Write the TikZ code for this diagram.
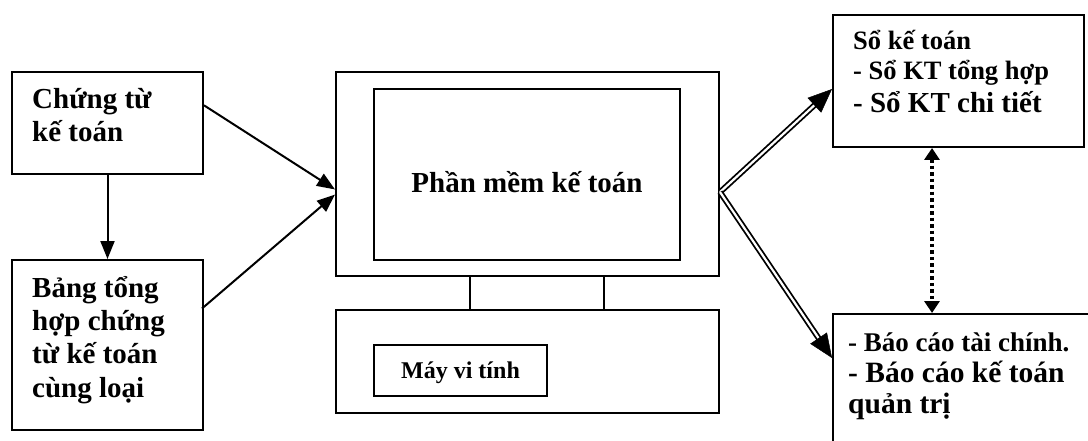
\documentclass[tikz,border=0pt]{standalone}
\usepackage{fontspec}
\setmainfont{Liberation Serif}
\usetikzlibrary{arrows.meta,calc}
\begin{document}
\begin{tikzpicture}[x=1pt,y=-1pt,
  box/.style={draw, line width=2pt, inner sep=0pt, anchor=north west},
  txt/.style={inner sep=0pt, align=left, anchor=base west},
  arr/.style={line width=2pt, -{Triangle[length=18pt,width=14pt]}},
  dbl/.style={draw, line width=1.8pt, double, double distance=2.2pt},
  bighead/.style={line width=0.5pt, -{Triangle[length=24pt,width=20pt]}},
  dotarr/.style={line width=3.2pt, dash pattern=on 3.5pt off 3pt,
     {Triangle[length=12pt,width=15pt]}-{Triangle[length=12pt,width=15pt]}}
]
\useasboundingbox (0,0) rectangle (1088,441);
\clip (0,0) rectangle (1088,441);

% boxes
\node[box, minimum width=191pt, minimum height=102pt] (ct) at (11,71) {};
\node[box, minimum width=191pt, minimum height=170pt] (bth) at (11,259) {};
\node[box, minimum width=383pt, minimum height=204pt] (mon) at (335,71) {};
\node[box, minimum width=306pt, minimum height=171pt] (scr) at (373,88) {};
\node[box, minimum width=134pt, minimum height=34pt] (stand) at (469,275) {};
\node[box, minimum width=383pt, minimum height=103pt] (base) at (335,309) {};
\node[box, minimum width=173pt, minimum height=51pt] (may) at (373,344) {};
\node[box, minimum width=251pt, minimum height=132pt] (sokt) at (832,14) {};
\node[box, minimum width=300pt, minimum height=200pt] (bc) at (832,313) {};

% texts (anchor = baseline of the last line)
\node[txt, font=\bfseries\fontsize{29}{33.3}\selectfont] (tct) at (32,142) {Chứng từ\\kế toán};
\node[txt, font=\bfseries\fontsize{29}{33.3}\selectfont] (tbth) at (32,397) {Bảng tổng\\hợp chứng\\từ kế toán\\cùng loại};
\node[inner sep=0pt, anchor=base, font=\bfseries\fontsize{29}{33}\selectfont] (tscr) at ($(scr.north)+(0,105)$) {Phần mềm kế toán};
\node[inner sep=0pt, anchor=base, font=\bfseries\fontsize{24}{28}\selectfont] (tmay) at ($(may.north)+(0,34)$) {Máy vi tính};
\node[txt, font=\bfseries\fontsize{26.5}{30}\selectfont] (tsokt) at (853,113) {Sổ kế toán\\- Sổ KT tổng hợp\\[3pt]{\fontsize{29}{33}\selectfont - Sổ KT chi tiết}};
\node[txt, font=\bfseries\fontsize{29.5}{31}\selectfont] (tbc) at (848,413) {{\fontsize{27}{31}\selectfont - Báo cáo tài chính.}\\- Báo cáo kế toán\\quản trị};

% input arrows
\draw[arr] (ct.south) -- (bth.north);
\coordinate (ctout) at ($(ct.north east)!0.33!(ct.south east)$);
\coordinate (bthout) at ($(bth.north west)!0.288!(bth.south west)+(191,0)$);
\coordinate (in1) at ($(mon.north west)!0.575!(mon.south west)$);
\coordinate (in2) at ($(mon.north west)!0.6!(mon.south west)$);
\draw[arr] (ctout) -- (in1);
\draw[arr] (bthout) -- (in2);

% output double arrows
\coordinate (out) at ($(mon.north east)!0.588!(mon.south east)$);
\coordinate (sin) at ($(sokt.north west)!0.56!(sokt.south west)$);
\coordinate (bin) at ($(bc.north west)+(0,45)$);
\draw[dbl, shorten >=18pt] (out) -- (sin);
\draw[bighead] ($(sin)!24pt!(out)$) -- (sin);
\draw[dbl, shorten >=18pt] (out) -- (bin);
\draw[bighead] ($(bin)!24pt!(out)$) -- (bin);

% dotted two-way arrow
\coordinate (d1) at ($(sokt.south west)+(100,0)$);
\coordinate (d2) at ($(bc.north west)+(100,0)$);
\draw[dotarr] (d1) -- (d2);
\end{tikzpicture}
\end{document}
